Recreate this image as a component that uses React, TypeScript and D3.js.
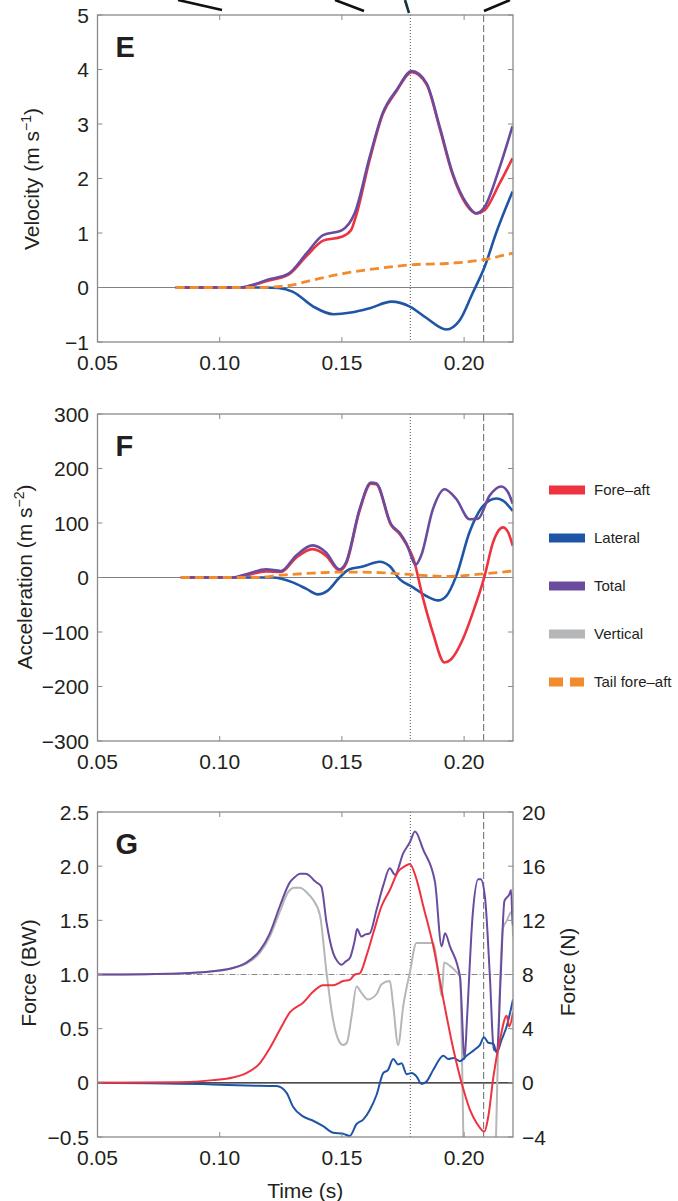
import React from 'react';
import * as d3 from 'd3';

type Pt = [number, number];

const FONT = '"Liberation Sans", Arial, Helvetica, sans-serif';
const INK = '#231f20';
const FRAME = '#8a8a8a';

const RED = '#ee3340';
const BLUE = '#1f55a5';
const PURPLE = '#6a4c9f';
const GREY = '#b4b6b7';
const ORANGE = '#f28a2e';

const xDomain: Pt = [0.05, 0.22];
const xTicks = [0.05, 0.1, 0.15, 0.2];
const tDotted = 0.178;
const tDashed = 0.208;

// E: velocity (m/s)
const velTotal: Pt[] = [[0.082, 0], [0.095, 0], [0.109, 0.005], [0.115, 0.07], [0.1193, 0.14], [0.128, 0.25], [0.1356, 0.63], [0.1423, 0.96], [0.1499, 1.05], [0.1553, 1.37], [0.1614, 2.4], [0.1667, 3.2], [0.1723, 3.62], [0.1786, 3.97], [0.1846, 3.75], [0.19, 2.95], [0.1953, 2.1], [0.2009, 1.55], [0.205, 1.36], [0.2084, 1.48], [0.2145, 2.2], [0.2198, 2.96]];
const velFore: Pt[] = [[0.082, 0], [0.095, 0], [0.109, 0.0], [0.115, 0.06], [0.1193, 0.12], [0.128, 0.23], [0.1356, 0.58], [0.1423, 0.86], [0.1499, 0.93], [0.1537, 1.05], [0.1555, 1.27], [0.1614, 2.35], [0.1667, 3.18], [0.1723, 3.6], [0.1786, 3.95], [0.1846, 3.73], [0.19, 2.92], [0.1953, 2.07], [0.2009, 1.52], [0.205, 1.36], [0.2084, 1.42], [0.2145, 1.91], [0.2198, 2.37]];
const velLat: Pt[] = [[0.082, 0], [0.118, 0], [0.124, -0.01], [0.13, -0.08], [0.1383, -0.35], [0.1465, -0.49], [0.1537, -0.46], [0.1614, -0.38], [0.1703, -0.26], [0.1778, -0.35], [0.1846, -0.56], [0.1927, -0.77], [0.1982, -0.6], [0.2035, -0.1], [0.2084, 0.38], [0.2131, 1.0], [0.2198, 1.76]];
const velTail: Pt[] = [[0.082, 0], [0.115, 0], [0.1274, 0.03], [0.1383, 0.14], [0.1499, 0.25], [0.1614, 0.33], [0.1723, 0.39], [0.1791, 0.42], [0.1927, 0.44], [0.2064, 0.5], [0.2198, 0.63]];

// F: acceleration (m/s^2)
const accTotal: Pt[] = [[0.0841, 0], [0.1053, 0], [0.1108, 6], [0.119, 15], [0.1251, 12], [0.1312, 40], [0.138, 59], [0.1435, 46], [0.149, 15], [0.1517, 28], [0.1572, 125], [0.1619, 174], [0.164, 173], [0.1701, 98], [0.1736, 82], [0.1762, 64], [0.1803, 24], [0.1824, 40], [0.1872, 125], [0.192, 162], [0.1968, 144], [0.2022, 107], [0.2057, 108], [0.2104, 150], [0.2152, 167], [0.218, 156], [0.2199, 135]];
const accFore: Pt[] = [[0.0841, 0], [0.1053, 0], [0.1108, 4], [0.119, 11], [0.1251, 10], [0.1312, 36], [0.138, 52], [0.1435, 40], [0.149, 13], [0.1517, 25], [0.1572, 122], [0.1619, 172], [0.164, 171], [0.1701, 96], [0.1736, 80], [0.1762, 62], [0.1792, 35], [0.1833, -40], [0.1872, -101], [0.192, -156], [0.1947, -150], [0.1995, -113], [0.2036, -64], [0.2084, 3], [0.2118, 64], [0.2159, 92], [0.218, 83], [0.2199, 58]];
const accLat: Pt[] = [[0.0841, 0], [0.1217, 0], [0.1299, -9], [0.1355, -21], [0.1401, -31], [0.1442, -24], [0.149, 0], [0.1531, 15], [0.1585, 20], [0.1654, 29], [0.1695, 21], [0.1736, -3], [0.1791, -18], [0.1845, -34], [0.1893, -42], [0.1927, -34], [0.1968, 3], [0.2022, 83], [0.2077, 131], [0.2132, 145], [0.2159, 141], [0.2199, 122]];
const accTail: Pt[] = [[0.0841, 0], [0.115, 0], [0.1244, 4], [0.138, 8], [0.1517, 10], [0.1654, 9], [0.1791, 5], [0.1927, 2], [0.2064, 6], [0.2199, 12]];

// G: force (body weights)
const frcTotal: Pt[] = [[0.05, 1.0], [0.0836, 1.01], [0.0972, 1.03], [0.1054, 1.06], [0.1109, 1.11], [0.1164, 1.22], [0.1205, 1.38], [0.1246, 1.63], [0.1287, 1.85], [0.1308, 1.9], [0.1328, 1.93], [0.135, 1.93], [0.1369, 1.91], [0.1385, 1.87], [0.1396, 1.85], [0.1416, 1.81], [0.1437, 1.48], [0.1464, 1.2], [0.1482, 1.12], [0.1498, 1.09], [0.1515, 1.12], [0.1532, 1.15], [0.1553, 1.32], [0.1562, 1.42], [0.158, 1.35], [0.1596, 1.37], [0.1614, 1.38], [0.1642, 1.6], [0.1669, 1.82], [0.1696, 1.98], [0.1717, 1.92], [0.1751, 2.12], [0.1778, 2.22], [0.1799, 2.32], [0.1833, 2.15], [0.1881, 1.85], [0.1908, 1.26], [0.1922, 1.38], [0.1942, 1.26], [0.1983, 0.98], [0.2002, 0.22], [0.2012, 0.6], [0.2035, 1.55], [0.2058, 1.88], [0.2068, 1.88], [0.2086, 1.7], [0.2105, 1.0], [0.2122, 0.3], [0.2135, 0.3], [0.215, 1.0], [0.2165, 1.68], [0.2185, 1.74], [0.2192, 1.78], [0.2198, 1.5], [0.22, 1.45]];
const frcVert: Pt[] = [[0.05, 1.0], [0.0836, 1.01], [0.0972, 1.03], [0.1054, 1.06], [0.1109, 1.1], [0.1164, 1.2], [0.1205, 1.35], [0.1246, 1.58], [0.128, 1.76], [0.1305, 1.8], [0.1328, 1.8], [0.1355, 1.76], [0.1382, 1.69], [0.141, 1.55], [0.1437, 1.02], [0.1464, 0.58], [0.1485, 0.4], [0.1505, 0.35], [0.152, 0.37], [0.154, 0.62], [0.156, 0.89], [0.158, 0.83], [0.1607, 0.77], [0.1642, 0.82], [0.1662, 0.91], [0.1696, 0.94], [0.171, 0.71], [0.173, 0.35], [0.1751, 0.71], [0.1778, 1.02], [0.1805, 1.29], [0.1874, 1.29], [0.1894, 1.02], [0.1908, 0.8], [0.1918, 1.11], [0.1942, 1.08], [0.197, 1.02], [0.1983, 0.98], [0.2003, -0.9], [0.2122, -0.9], [0.2145, 0.8], [0.2158, 1.42], [0.2175, 1.5], [0.219, 1.57], [0.2196, 1.58], [0.22, 1.35]];
const frcFore: Pt[] = [[0.05, 0], [0.0836, 0.006], [0.0972, 0.025], [0.1054, 0.05], [0.1109, 0.09], [0.1164, 0.18], [0.1205, 0.32], [0.1246, 0.49], [0.1287, 0.65], [0.1341, 0.74], [0.1382, 0.84], [0.1423, 0.9], [0.1464, 0.9], [0.1505, 0.94], [0.1532, 0.95], [0.1553, 1.0], [0.1573, 1.01], [0.16, 1.17], [0.1628, 1.38], [0.1662, 1.63], [0.1696, 1.78], [0.173, 1.95], [0.1758, 2.0], [0.1778, 2.02], [0.1805, 1.88], [0.1833, 1.63], [0.1874, 1.26], [0.1915, 0.77], [0.1956, 0.31], [0.1997, -0.06], [0.2024, -0.25], [0.2051, -0.37], [0.2083, -0.45], [0.2099, -0.31], [0.212, 0.06], [0.2147, 0.4], [0.2174, 0.62], [0.2185, 0.52], [0.22, 0.65]];
const frcLat: Pt[] = [[0.05, 0], [0.0972, -0.015], [0.1109, -0.025], [0.1232, -0.03], [0.1273, -0.09], [0.13, -0.22], [0.1341, -0.31], [0.1382, -0.35], [0.1423, -0.4], [0.1464, -0.46], [0.1505, -0.47], [0.1532, -0.49], [0.156, -0.38], [0.1587, -0.34], [0.1614, -0.25], [0.1642, -0.11], [0.1669, 0.09], [0.1689, 0.12], [0.171, 0.22], [0.173, 0.17], [0.1744, 0.18], [0.1765, 0.08], [0.1785, 0.09], [0.1805, 0.06], [0.1826, -0.01], [0.1847, 0.015], [0.1874, 0.12], [0.1915, 0.25], [0.1935, 0.22], [0.1956, 0.23], [0.1983, 0.2], [0.201, 0.25], [0.2045, 0.31], [0.2065, 0.35], [0.2081, 0.42], [0.2099, 0.37], [0.212, 0.36], [0.2133, 0.28], [0.2154, 0.4], [0.2174, 0.52], [0.22, 0.77]];

const velTicks = [-1, 0, 1, 2, 3, 4, 5];
const accTicks = [-300, -200, -100, 0, 100, 200, 300];
const frcTicks = [-0.5, 0, 0.5, 1.0, 1.5, 2.0, 2.5];
const newtonTicks = [-4, 0, 4, 8, 12, 16, 20];
const newtonPerBW = 8;

const legendItems = [
  { label: 'Fore\u2013aft', color: RED, dash: false },
  { label: 'Lateral', color: BLUE, dash: false },
  { label: 'Total', color: PURPLE, dash: false },
  { label: 'Vertical', color: GREY, dash: false },
  { label: 'Tail fore\u2013aft', color: ORANGE, dash: true },
];

const L = 97.5;
const R = 513;

const minus = (s: string) => s.replace('-', '\u2212');

type Series = { data: Pt[]; color: string; width: number; dash?: string };

function Panel(props: {
  letter: string; top: number; bottom: number; yDomain: Pt; yTicks: number[];
  fmt: (v: number) => string; series: Series[]; curve: d3.CurveFactory;
  zeroColor: string; zeroWidth: number; hasRightAxis?: boolean; children?: React.ReactNode;
}) {
  const { letter, top, bottom, yDomain, yTicks, fmt, series, curve } = props;
  const x = d3.scaleLinear().domain(xDomain).range([L, R]);
  const y = d3.scaleLinear().domain(yDomain).range([bottom, top]);
  const line = d3.line<Pt>().x(d => x(d[0])).y(d => y(d[1])).curve(curve);
  const clip = 'clip' + letter;
  const tk = 5;
  return (
    <g>
      <defs>
        <clipPath id={clip}><rect x={L} y={top} width={R - L} height={bottom - top} /></clipPath>
      </defs>
      <g clipPath={`url(#${clip})`}>
        <line x1={L} x2={R} y1={y(0)} y2={y(0)} stroke={props.zeroColor} strokeWidth={props.zeroWidth} />
        <line x1={x(tDotted)} x2={x(tDotted)} y1={top} y2={bottom} stroke="#555" strokeWidth={1} strokeDasharray="1,2" />
        <line x1={x(tDashed)} x2={x(tDashed)} y1={top} y2={bottom} stroke="#666" strokeWidth={1} strokeDasharray="7,3" />
        {props.children}
        {series.map((s, i) => (
          <path key={i} d={line(s.data) || ''} fill="none" stroke={s.color} strokeWidth={s.width}
            strokeDasharray={s.dash} strokeLinejoin="round" />
        ))}
      </g>
      <rect x={L} y={top} width={R - L} height={bottom - top} fill="none" stroke={FRAME} strokeWidth={1.3} />
      {xTicks.map(t => (
        <g key={t}>
          <line x1={x(t)} x2={x(t)} y1={bottom} y2={bottom - tk} stroke={FRAME} />
          <line x1={x(t)} x2={x(t)} y1={top} y2={top + tk} stroke={FRAME} />
          <text x={x(t)} y={bottom + 28} textAnchor="middle" fontSize={21} fill={INK}>{d3.format('.2f')(t)}</text>
        </g>
      ))}
      {yTicks.map(v => (
        <g key={v}>
          <line x1={L} x2={L + tk} y1={y(v)} y2={y(v)} stroke={FRAME} />
          {!props.hasRightAxis && <line x1={R} x2={R - tk} y1={y(v)} y2={y(v)} stroke={FRAME} />}
          <text x={89} y={y(v)} dy="0.36em" textAnchor="end" fontSize={21} fill={INK}>{minus(fmt(v))}</text>
        </g>
      ))}
      <text x={L + 18} y={top + 42} fontSize={29} fontWeight="bold" fill={INK}>{letter}</text>
    </g>
  );
}

export default function App() {
  const gTop = 812, gBottom = 1137;
  const yG = d3.scaleLinear().domain([-0.5, 2.5]).range([gBottom, gTop]);
  const xG = d3.scaleLinear().domain(xDomain).range([L, R]);
  return (
    <svg width={678} height={1201} style={{ position: 'absolute', left: 0, top: 0, background: '#fff' }}
      fontFamily={FONT}>
      <rect width={678} height={1201} fill="#fff" />
      {/* strokes from the figure above, cut off at the top edge */}
      <g stroke="#111" strokeWidth={2.6} strokeLinecap="butt">
        <line x1={178} y1={0} x2={222} y2={10} />
        <line x1={335} y1={0} x2={364} y2={11} />
        <line x1={405} y1={0} x2={409} y2={13} stroke="#17333a" />
        <line x1={484} y1={11} x2={510} y2={0} />
      </g>

      <Panel letter="E" top={15} bottom={342} yDomain={[-1, 5]} yTicks={velTicks} fmt={d3.format('d')}
        curve={d3.curveMonotoneX} zeroColor="#808080" zeroWidth={1}
        series={[
          { data: velLat, color: BLUE, width: 2.6 },
          { data: velFore, color: RED, width: 2.6 },
          { data: velTotal, color: PURPLE, width: 2.6 },
          { data: velTail, color: ORANGE, width: 2.8, dash: '9,5' },
        ]} />
      <text transform="translate(39,179) rotate(-90)" textAnchor="middle" fontSize={21} fill={INK}>
        Velocity (m s<tspan dy={-8} fontSize={14}>{'\u22121'}</tspan><tspan dy={8}>)</tspan>
      </text>

      <Panel letter="F" top={414} bottom={741} yDomain={[-300, 300]} yTicks={accTicks} fmt={d3.format('d')}
        curve={d3.curveMonotoneX} zeroColor="#808080" zeroWidth={1}
        series={[
          { data: accLat, color: BLUE, width: 2.6 },
          { data: accFore, color: RED, width: 2.6 },
          { data: accTotal, color: PURPLE, width: 2.6 },
          { data: accTail, color: ORANGE, width: 2.8, dash: '9,5' },
        ]} />
      <text transform="translate(32,577) rotate(-90)" textAnchor="middle" fontSize={21} fill={INK}>
        Acceleration (m s<tspan dy={-8} fontSize={14}>{'\u22122'}</tspan><tspan dy={8}>)</tspan>
      </text>

      <Panel letter="G" top={gTop} bottom={gBottom} yDomain={[-0.5, 2.5]} yTicks={frcTicks}
        fmt={v => (v === 0 ? '0' : d3.format('.1f')(v))}
        curve={d3.curveMonotoneX} zeroColor="#111" zeroWidth={1.4} hasRightAxis
        series={[
          { data: frcVert, color: GREY, width: 2 },
          { data: frcTotal, color: PURPLE, width: 2 },
          { data: frcLat, color: BLUE, width: 2 },
          { data: frcFore, color: RED, width: 2 },
        ]}>
        <line x1={L} x2={R} y1={yG(1)} y2={yG(1)} stroke="#888" strokeWidth={1} strokeDasharray="6,2,1,2" />
      </Panel>
      {newtonTicks.map(n => (
        <g key={n}>
          <line x1={R} x2={R - 5} y1={yG(n / newtonPerBW)} y2={yG(n / newtonPerBW)} stroke={FRAME} />
          <text x={522} y={yG(n / newtonPerBW)} dy="0.36em" fontSize={21} fill={INK}>{minus(String(n))}</text>
        </g>
      ))}
      <text transform="translate(36,973) rotate(-90)" textAnchor="middle" fontSize={21} fill={INK}>Force (BW)</text>
      <text transform="translate(575,972) rotate(-90)" textAnchor="middle" fontSize={21} fill={INK}>Force (N)</text>
      <text x={xG(0.135)} y={1198} textAnchor="middle" fontSize={21} fill={INK}>Time (s)</text>

      {legendItems.map((it, i) => {
        const cy = 490 + i * 48;
        return (
          <g key={it.label}>
            <line x1={549} x2={585} y1={cy} y2={cy} stroke={it.color} strokeWidth={9}
              strokeDasharray={it.dash ? '14,7' : undefined} />
            <text x={594} y={cy} dy="0.36em" fontSize={15} fill={INK}>{it.label}</text>
          </g>
        );
      })}
    </svg>
  );
}
